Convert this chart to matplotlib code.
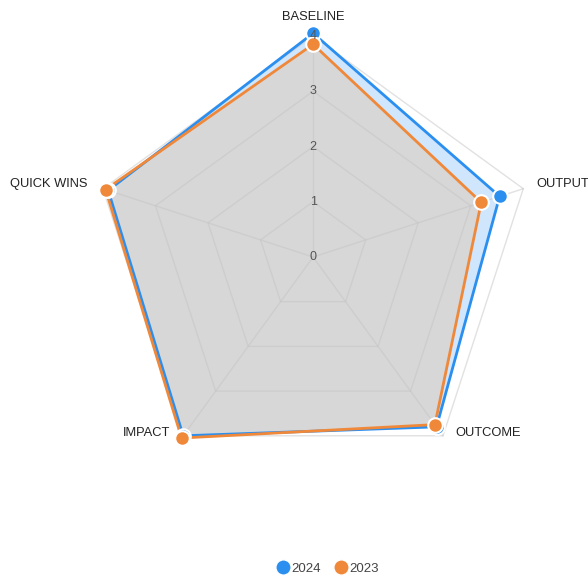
import numpy as np
import matplotlib
matplotlib.use('Agg')
import matplotlib.pyplot as plt
from matplotlib.lines import Line2D

categories = ['BASELINE', 'OUTPUT', 'OUTCOME', 'IMPACT', 'QUICK WINS']
values_2024 = [4.05, 3.55, 3.8, 4.0, 3.9]
values_2023 = [3.85, 3.2, 3.75, 4.05, 3.95]
rings = [0, 1, 2, 3, 4]

blue = '#2b8ff0'
orange = '#f0883a'

plt.rcParams['font.family'] = ['Liberation Sans', 'DejaVu Sans']

fig = plt.figure(figsize=(5.88, 5.77), dpi=100)
ax = fig.add_axes([0.1565, 0.1716, 0.752, 0.766], projection='polar')
ax.set_theta_offset(np.pi / 2)
ax.set_theta_direction(-1)
ax.set_ylim(0, 4)
ax.grid(False)
ax.spines['polar'].set_visible(False)
ax.set_xticks([])
ax.set_yticks([])
ax.patch.set_alpha(0)

n = len(categories)
theta = np.linspace(0, 2 * np.pi, n, endpoint=False)
theta_c = np.append(theta, theta[0])

# fills
v24 = np.append(values_2024, values_2024[0])
v23 = np.append(values_2023, values_2023[0])
ax.fill(theta_c, v24, color='#d0e6fc', zorder=1, clip_on=False)
ax.fill(theta_c, v23, color='#d7d7d7', zorder=2, clip_on=False)

# pentagon grid
for r in rings[1:]:
    ax.plot(theta_c, [r] * (n + 1), color='#c4c4c4', alpha=0.5, lw=1, zorder=3, clip_on=False)
for t in theta:
    ax.plot([t, t], [0, 4], color='#c4c4c4', alpha=0.5, lw=1, zorder=3, clip_on=False)

# series
ax.plot(theta_c, v24, color=blue, lw=2, zorder=4, clip_on=False)
ax.plot(theta_c, v23, color=orange, lw=2, zorder=4, clip_on=False)
ax.plot(theta, values_2024, 'o', color=blue, ms=10.5, mec='white', mew=1.5, zorder=5, clip_on=False)
ax.plot(theta, values_2023, 'o', color=orange, ms=10.5, mec='white', mew=1.5, zorder=5, clip_on=False)

# radial tick labels
for r in rings:
    ax.text(0, r, str(r), ha='center', va='center', fontsize=9, color='#555555', zorder=6)

# category labels
offsets = [(0, 13, 'center', 'bottom'), (13, 5, 'left', 'center'), (12, 3, 'left', 'center'),
           (-13, 3, 'right', 'center'), (-15, 5, 'right', 'center')]
for t, lab, (dx, dy, ha, va) in zip(theta, categories, offsets):
    ax.annotate(lab, xy=(t, 4), xytext=(dx, dy), textcoords='offset pixels',
                ha=ha, va=va, fontsize=9.3, color='#222222', annotation_clip=False)

handles = [Line2D([], [], ls='', marker='o', ms=11, color=blue, mec='white', label='2024'),
           Line2D([], [], ls='', marker='o', ms=11, color=orange, mec='white', label='2023')]
fig.legend(handles=handles, loc='center', bbox_to_anchor=(0.556, 0.014), ncol=2, frameon=False,
           fontsize=9.5, handletextpad=0.0, columnspacing=1.0, handlelength=1.2,
           labelcolor='#444444')

fig.savefig('out.png', dpi=100)
